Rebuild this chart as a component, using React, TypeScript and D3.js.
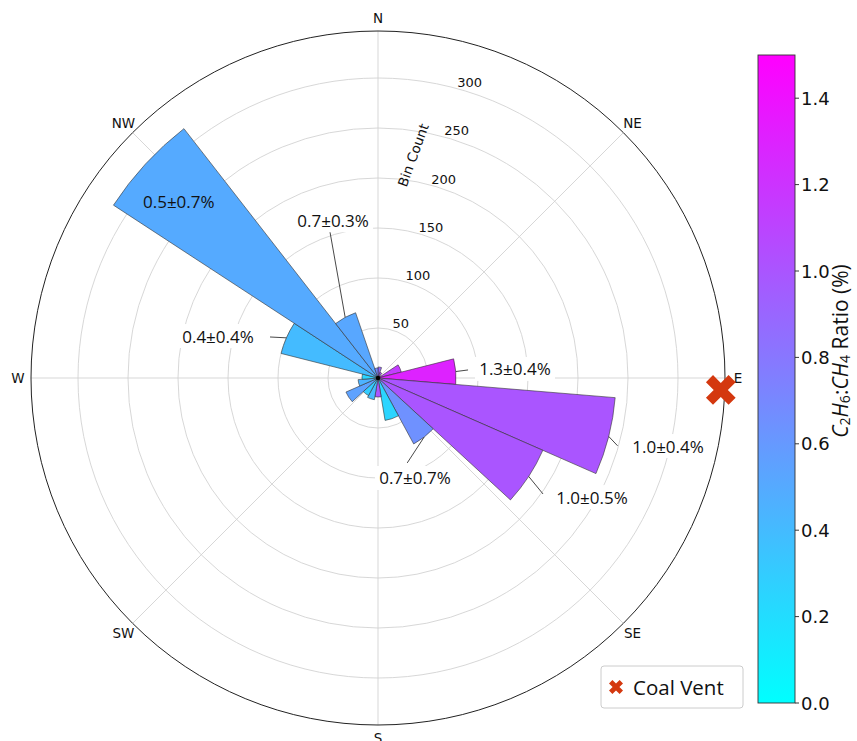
import React from "react";
import * as d3 from "d3";

// ---------- data ----------
const compassLabels = ["N", "NE", "E", "SE", "S", "SW", "W", "NW"];
// 19 direction bins (360/19 degrees each), clockwise from North
const binCounts = [11, 6, 3, 24, 78, 238, 180, 75, 43, 19, 22, 20, 35, 20, 16, 100, 316, 69, 10];
const binRatios = [0.9, 1.0, 1.1, 1.15, 1.3, 1.0, 1.0, 0.65, 0.25, 1.0, 0.4, 0.3, 0.55, 0.45, 0.25, 0.4, 0.5, 0.52, 0.7];
const radialTicks = [50, 100, 150, 200, 250, 300];
const colorbarTicks = [0.0, 0.2, 0.4, 0.6, 0.8, 1.0, 1.2, 1.4];
const annotationTexts = ["0.5±0.7%", "0.7±0.3%", "0.4±0.4%", "1.3±0.4%", "1.0±0.4%", "1.0±0.5%", "0.7±0.7%"];
const annotationBins = [16, 17, 15, 4, 5, 6, 7];
const ventAngleDeg = 92;
const ventLabel = "Coal Vent";

// ---------- layout ----------
const W = 857;
const H = 741;
const cx = 378;
const cy = 378;
const R = 347;
const rMax = 347;
const nBins = binCounts.length;
const binW = (2 * Math.PI) / nBins;

// annotation label positions (polar: degrees, px) and leader end points
const annLayout = [
  { a: 311.5, r: 266, box: false, leader: null },
  { a: 344.1, r: 164, box: true, leader: { a: 341.8, r: 153.7 } },
  { a: 284.7, r: 165.4, box: true, leader: { a: 290.8, r: 115.5 } },
  { a: 86.2, r: 137.3, box: true, leader: { a: 84.9, r: 90.4 } },
  { a: 103.2, r: 297.9, box: true, leader: { a: 105.8, r: 249 } },
  { a: 119.1, r: 244.9, box: true, leader: { a: 125.1, r: 201.7 } },
  { a: 159.7, r: 106.6, box: true, leader: { a: 161, r: 89.8 } },
];

const rScale = d3.scaleLinear().domain([0, rMax]).range([0, R]);
const cScale = d3.scaleLinear().domain([0, 1.5]).range([0, 1]).clamp(true);
const cool = (v: number) => {
  const t = cScale(v);
  return d3.rgb(Math.round(255 * t), Math.round(255 * (1 - t)), 255).formatHex();
};

const polar = (deg: number, r: number) => {
  const a = (deg * Math.PI) / 180;
  return [cx + r * Math.sin(a), cy - r * Math.cos(a)];
};

const xMarkerPath = (L: number, w: number) => {
  const pts = [
    [-w, L], [w, L], [w, w], [L, w], [L, -w], [w, -w],
    [w, -L], [-w, -L], [-w, -w], [-L, -w], [-L, w], [-w, w],
  ];
  const c = Math.SQRT1_2;
  const rot = pts.map(([x, y]) => [x * c - y * c, x * c + y * c]);
  return "M" + rot.map((p) => p.map((v) => v.toFixed(2)).join(",")).join("L") + "Z";
};

// colorbar
const cbX = 758;
const cbW = 37;
const cbTop = 55;
const cbBottom = 703;
const cbScale = d3.scaleLinear().domain([0, 1.5]).range([cbBottom, cbTop]);

export default function App() {
  const arc = d3.arc<any>();
  const dejavu = "DejaVu Sans, sans-serif";
  const openSans = "'Open Sans', sans-serif";
  const [vx, vy] = polar(ventAngleDeg, rScale(343));

  return (
    <svg
      width={W}
      height={H}
      style={{ position: "absolute", left: 0, top: 0, background: "#fff" }}
    >
      <defs>
        <linearGradient id="cbGrad" x1="0" y1="1" x2="0" y2="0">
          <stop offset="0%" stopColor={cool(0)} />
          <stop offset="100%" stopColor={cool(1.5)} />
        </linearGradient>
      </defs>

      {/* grid circles */}
      {radialTicks.map((t) => (
        <circle key={t} cx={cx} cy={cy} r={rScale(t)} fill="none" stroke="#d3d3d3" strokeWidth={0.9} />
      ))}
      {/* spokes */}
      {compassLabels.map((_, i) => {
        const [x, y] = polar(i * 45, R);
        return <line key={i} x1={cx} y1={cy} x2={x} y2={y} stroke="#d3d3d3" strokeWidth={0.9} />;
      })}

      {/* bars */}
      <g transform={`translate(${cx},${cy})`}>
        {binCounts.map((c, k) => (
          <path
            key={k}
            d={arc({ innerRadius: 0, outerRadius: rScale(c), startAngle: k * binW, endAngle: (k + 1) * binW }) as string}
            fill={cool(binRatios[k])}
            stroke="#333"
            strokeWidth={0.6}
            strokeLinejoin="miter"
          />
        ))}
        <circle r={2.2} fill="#000" />
      </g>

      {/* outer circle */}
      <circle cx={cx} cy={cy} r={R} fill="none" stroke="#222" strokeWidth={1} />

      {/* radial tick labels */}
      {radialTicks.map((t) => {
        const [x, y] = polar(15, rScale(t) + 6);
        return (
          <text key={t} x={x} y={y} fontFamily={dejavu} fontSize={13} fill="#111" dominantBaseline="central">
            {t}
          </text>
        );
      })}
      <text
        transform={`translate(413,155) rotate(-70)`}
        textAnchor="middle"
        dominantBaseline="central"
        fontFamily={dejavu}
        fontSize={13.5}
        fill="#111"
      >
        Bin Count
      </text>

      {/* compass labels */}
      {compassLabels.map((l, i) => {
        const [x, y] = polar(i * 45, R + 13);
        return (
          <text key={l} x={x} y={y} textAnchor="middle" dominantBaseline="central" fontFamily={dejavu} fontSize={13.5} fill="#111">
            {l}
          </text>
        );
      })}

      {/* annotations */}
      {annotationTexts.map((txt, i) => {
        const lay = annLayout[i];
        const [tx, ty] = polar(lay.a, lay.r);
        const k = annotationBins[i];
        const startDeg = ((k + 0.5) * 360) / nBins;
        const [sx, sy] = polar(startDeg, rScale(binCounts[k]));
        return (
          <g key={i}>
            {lay.leader && (() => {
              const [ex, ey] = polar(lay.leader.a, lay.leader.r);
              return <line x1={sx} y1={sy} x2={ex} y2={ey} stroke="#333" strokeWidth={0.9} />;
            })()}
            {lay.box && <rect x={tx - 40} y={ty - 12} width={80} height={24} fill="#fff" />}
            <text x={tx} y={ty} textAnchor="middle" dominantBaseline="central" fontFamily={openSans} fontSize={17} fill="#111">
              {txt}
            </text>
          </g>
        );
      })}

      {/* coal vent marker */}
      <path d={xMarkerPath(16, 5)} transform={`translate(${vx},${vy})`} fill="#d4380f" />

      {/* legend */}
      <rect x={601} y={666} width={142} height={42} rx={3} fill="#fff" stroke="#cccccc" strokeWidth={1} />
      <path d={xMarkerPath(7.5, 2.4)} transform="translate(616,687)" fill="#d4380f" />
      <text x={633} y={687} dominantBaseline="central" fontFamily={openSans} fontSize={20.5} fill="#111">
        {ventLabel}
      </text>

      {/* colorbar */}
      <rect x={cbX} y={cbTop} width={cbW} height={cbBottom - cbTop} fill="url(#cbGrad)" stroke="#333" strokeWidth={0.9} />
      {colorbarTicks.map((t) => (
        <g key={t}>
          <line x1={cbX + cbW} x2={cbX + cbW + 4} y1={cbScale(t)} y2={cbScale(t)} stroke="#222" strokeWidth={0.9} />
          <text x={cbX + cbW + 6} y={cbScale(t)} dominantBaseline="central" fontFamily={dejavu} fontSize={18} fill="#111">
            {t.toFixed(1)}
          </text>
        </g>
      ))}
      <text
        transform="translate(840,351) rotate(-90)"
        textAnchor="middle"
        dominantBaseline="central"
        fontFamily={openSans}
        fontSize={21}
        fill="#111"
      >
        <tspan fontStyle="italic">C</tspan>
        <tspan fontSize={14} dy={4}>2</tspan>
        <tspan fontStyle="italic" dy={-4}>H</tspan>
        <tspan fontSize={14} dy={4}>6</tspan>
        <tspan dy={-4}>:</tspan>
        <tspan fontStyle="italic">CH</tspan>
        <tspan fontSize={14} dy={4}>4</tspan>
        <tspan dy={-4}> Ratio (%)</tspan>
      </text>
    </svg>
  );
}
